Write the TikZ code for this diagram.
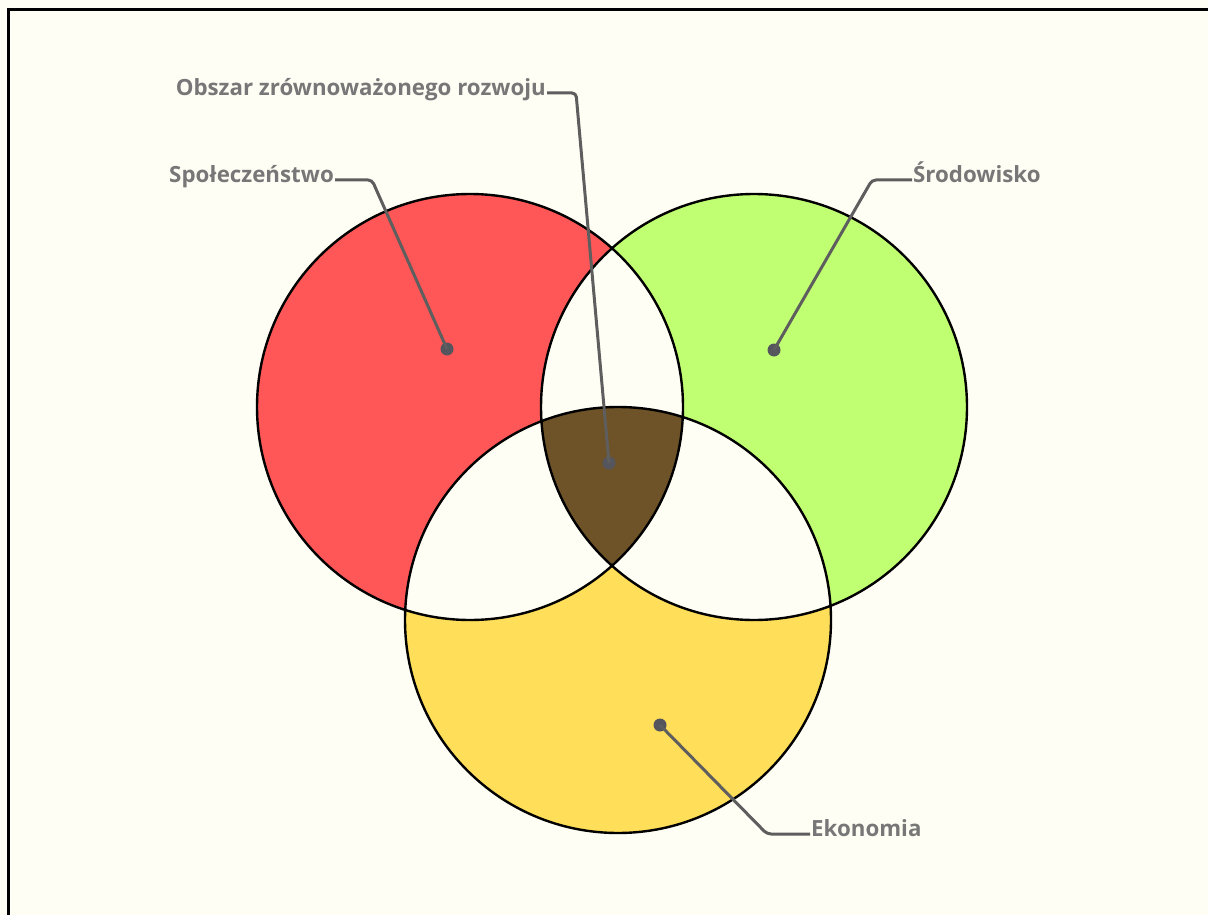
\documentclass[tikz,border=0pt]{standalone}
\usepackage{fontspec}
\setmainfont{Open Sans}
\definecolor{bgc}{HTML}{FFFEF5}
\definecolor{redc}{HTML}{FF5757}
\definecolor{greenc}{HTML}{C1FF72}
\definecolor{yellowc}{HTML}{FFDE59}
\definecolor{brownc}{HTML}{6E5228}
\definecolor{leadc}{HTML}{5E5E5E}
\definecolor{dotc}{HTML}{55555E}
\definecolor{textc}{HTML}{777777}
\tikzset{
  leader/.style={draw=leadc, line width=3pt, rounded corners=4pt},
  dotnode/.style={circle, fill=dotc, minimum size=13pt, inner sep=0pt},
  lbl/.style={font=\fontsize{22.3}{26}\selectfont\bfseries, text=textc, inner sep=1pt},
  ring/.style={draw=black, line width=2.4pt},
}
\begin{document}
\begin{tikzpicture}[x=1pt, y=-1pt]
\useasboundingbox (0,0) rectangle (1208,915);
\fill[bgc] (0,0) rectangle (1208,915);
\draw[black, line width=3pt] (8,915) -- (8,10) -- (1208,10);
% circles
\def\R{213}
\coordinate (cr) at (470,407);
\coordinate (cg) at (754,407);
\coordinate (cy) at (618,620);
\fill[redc] (cr) circle (\R pt);
\fill[greenc] (cg) circle (\R pt);
\fill[yellowc] (cy) circle (\R pt);
\begin{scope}
  \clip (cr) circle (\R pt);
  \fill[bgc] (cg) circle (\R pt);
  \fill[bgc] (cy) circle (\R pt);
\end{scope}
\begin{scope}
  \clip (cg) circle (\R pt);
  \fill[bgc] (cy) circle (\R pt);
\end{scope}
\begin{scope}
  \clip (cr) circle (\R pt);
  \clip (cg) circle (\R pt);
  \fill[brownc] (cy) circle (\R pt);
\end{scope}
\draw[ring] (cr) circle (\R pt);
\draw[ring] (cg) circle (\R pt);
\draw[ring] (cy) circle (\R pt);
% labels
\node[lbl, anchor=mid east] (tS) at (335,180) {Społeczeństwo};
\node[lbl, anchor=mid west] (tE) at (912,180) {Środowisko};
\node[lbl, anchor=mid east] (tO) at (547,93) {Obszar zrównoważonego rozwoju};
\node[lbl, anchor=mid west] (tK) at (810,834) {Ekonomia};
% dots
\node[dotnode] (dS) at (447,349) {};
\node[dotnode] (dE) at (774,350) {};
\node[dotnode] (dO) at (609,463) {};
\node[dotnode] (dK) at (660,725) {};
% bends
\coordinate (bS) at (372,180);
\coordinate (bE) at (872,180);
\coordinate (bO) at (576,93);
\coordinate (bK) at (767,834);
\draw[leader] (tS.mid east) -- (bS) -- (dS.center);
\draw[leader] (tE.mid west) -- (bE) -- (dE.center);
\draw[leader] (tO.mid east) -- (bO) -- (dO.center);
\draw[leader] (tK.mid west) -- (bK) -- (dK.center);
\end{tikzpicture}
\end{document}
